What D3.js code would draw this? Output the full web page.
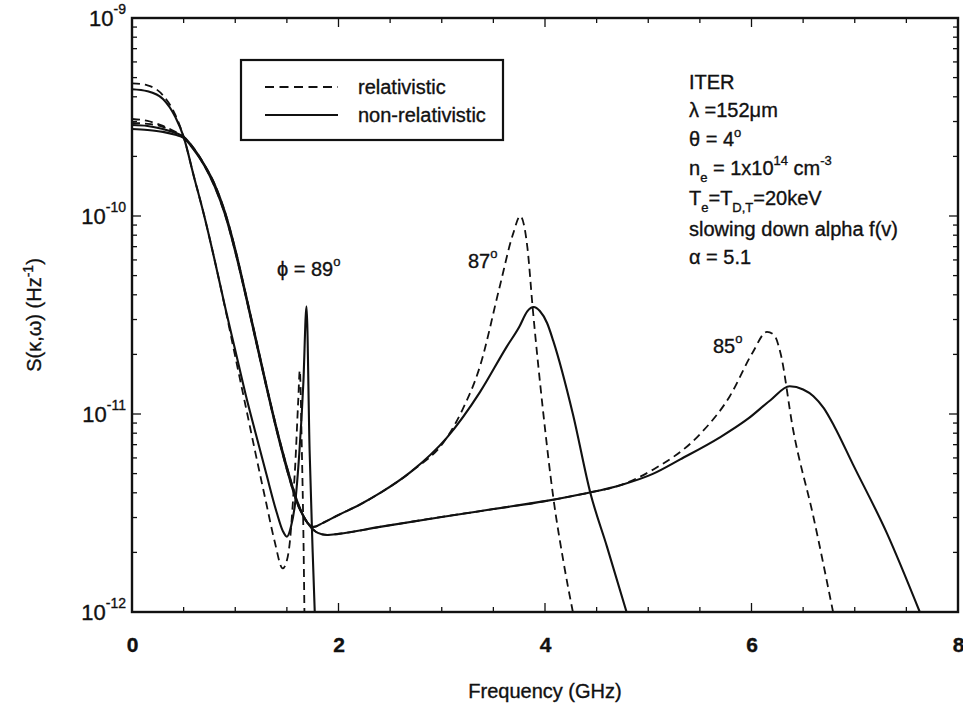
<!DOCTYPE html>
<html>
<head>
<meta charset="utf-8">
<script src="https://cdn.jsdelivr.net/npm/d3@7"></script>
<style>
  body { margin: 0; background: #fff; }
  text { font-family: "Liberation Sans", Arial, Helvetica, sans-serif; fill: #111; stroke: #111; stroke-width: 0.35px; }
</style>
</head>
<body>
<div id="chart"></div>
<script>
// frequency axis (GHz) and spectral density S(k,w) (Hz^-1)
const xTicks = [0, 2, 4, 6, 8];
const yTicks = [1e-9, 1e-10, 1e-11, 1e-12];
const yTickLabels = ["-9", "-10", "-11", "-12"];

// phi = 89 deg
const f89nr = [0, 0.15, 0.3, 0.42, 0.5, 0.6, 0.7, 0.8, 0.9, 1.0, 1.1, 1.2, 1.3, 1.4, 1.46, 1.5, 1.54, 1.58, 1.62, 1.66, 1.69, 1.72, 1.75, 1.77];
const s89nr = [4.37e-10, 4.27e-10, 3.9e-10, 3.16e-10, 2.51e-10, 1.58e-10, 1.0e-10, 6.0e-11, 3.5e-11, 2.1e-11, 1.26e-11, 7.9e-12, 5.0e-12, 3.2e-12, 2.57e-12, 2.4e-12, 2.7e-12, 3.55e-12, 6.3e-12, 1.45e-11, 3.5e-11, 6.6e-12, 2.0e-12, 1.0e-12];
const f89r = [0, 0.15, 0.3, 0.42, 0.5, 0.6, 0.7, 0.8, 0.9, 1.0, 1.1, 1.2, 1.3, 1.38, 1.46, 1.5, 1.53, 1.56, 1.58, 1.61, 1.625, 1.645, 1.66, 1.67];
const s89r = [4.68e-10, 4.57e-10, 4.07e-10, 3.24e-10, 2.51e-10, 1.58e-10, 1.0e-10, 6.0e-11, 3.47e-11, 1.95e-11, 1.1e-11, 6.2e-12, 3.55e-12, 2.29e-12, 1.66e-12, 1.82e-12, 2.29e-12, 3.7e-12, 5.4e-12, 1.17e-11, 1.66e-11, 6.6e-12, 2.5e-12, 1.0e-12];

// phi = 87 deg
const f87nr = [0, 0.15, 0.3, 0.42, 0.5, 0.6, 0.7, 0.8, 0.9, 1.0, 1.1, 1.2, 1.3, 1.4, 1.5, 1.6, 1.7, 1.76, 1.85, 2.0, 2.2, 2.4, 2.7, 3.05, 3.37, 3.63, 3.75, 3.83, 3.89, 3.95, 4.02, 4.08, 4.27, 4.44, 4.6, 4.79];
const s87nr = [2.88e-10, 2.85e-10, 2.75e-10, 2.63e-10, 2.51e-10, 2.19e-10, 1.82e-10, 1.45e-10, 1.05e-10, 6.8e-11, 4.07e-11, 2.4e-11, 1.41e-11, 8.5e-12, 5.4e-12, 3.63e-12, 2.82e-12, 2.69e-12, 2.82e-12, 3.09e-12, 3.47e-12, 3.98e-12, 5.1e-12, 7.6e-12, 1.29e-11, 2.19e-11, 2.75e-11, 3.31e-11, 3.47e-11, 3.31e-11, 2.88e-11, 2.34e-11, 1.0e-11, 3.98e-12, 2.14e-12, 1.0e-12];
const f87r = [0, 0.15, 0.3, 0.42, 0.5, 0.6, 0.7, 0.8, 0.9, 1.0, 1.1, 1.2, 1.3, 1.4, 1.5, 1.6, 1.7, 1.76, 1.85, 2.0, 2.2, 2.4, 2.7, 3.05, 3.2, 3.37, 3.56, 3.69, 3.76, 3.83, 3.88, 3.98, 4.08, 4.18, 4.27];
const s87r = [3.09e-10, 3.02e-10, 2.85e-10, 2.66e-10, 2.51e-10, 2.19e-10, 1.82e-10, 1.45e-10, 1.05e-10, 6.8e-11, 4.07e-11, 2.4e-11, 1.41e-11, 8.5e-12, 5.4e-12, 3.63e-12, 2.82e-12, 2.69e-12, 2.82e-12, 3.09e-12, 3.47e-12, 3.98e-12, 5.1e-12, 7.6e-12, 1.05e-11, 1.74e-11, 4.37e-11, 8.1e-11, 1.0e-10, 6.9e-11, 3.47e-11, 1.05e-11, 3.8e-12, 1.78e-12, 1.0e-12];

// phi = 85 deg
const f85nr = [0, 0.15, 0.3, 0.42, 0.5, 0.6, 0.7, 0.8, 0.9, 1.0, 1.1, 1.2, 1.3, 1.4, 1.5, 1.6, 1.7, 1.8, 1.89, 2.0, 2.4, 3.0, 3.5, 4.0, 4.4, 4.73, 5.05, 5.31, 5.69, 5.97, 6.18, 6.37, 6.5, 6.6, 6.7, 6.8, 6.98, 7.31, 7.63];
const s85nr = [2.75e-10, 2.72e-10, 2.66e-10, 2.57e-10, 2.48e-10, 2.16e-10, 1.8e-10, 1.41e-10, 1.02e-10, 6.6e-11, 3.98e-11, 2.34e-11, 1.38e-11, 8.3e-12, 5.25e-12, 3.55e-12, 2.82e-12, 2.51e-12, 2.45e-12, 2.48e-12, 2.69e-12, 3.02e-12, 3.31e-12, 3.63e-12, 3.98e-12, 4.37e-12, 5.0e-12, 5.9e-12, 7.6e-12, 9.5e-12, 1.17e-11, 1.38e-11, 1.33e-11, 1.23e-11, 1.07e-11, 8.7e-12, 5.6e-12, 2.51e-12, 1.0e-12];
const f85r = [0, 0.15, 0.3, 0.42, 0.5, 0.6, 0.7, 0.8, 0.9, 1.0, 1.1, 1.2, 1.3, 1.4, 1.5, 1.6, 1.7, 1.8, 1.89, 2.0, 2.4, 3.0, 3.5, 4.0, 4.4, 4.73, 5.05, 5.5, 5.79, 6.01, 6.15, 6.22, 6.28, 6.4, 6.6, 6.79];
const s85r = [2.95e-10, 2.92e-10, 2.82e-10, 2.63e-10, 2.48e-10, 2.16e-10, 1.8e-10, 1.41e-10, 1.02e-10, 6.6e-11, 3.98e-11, 2.34e-11, 1.38e-11, 8.3e-12, 5.25e-12, 3.55e-12, 2.82e-12, 2.51e-12, 2.45e-12, 2.48e-12, 2.69e-12, 3.02e-12, 3.31e-12, 3.63e-12, 3.98e-12, 4.37e-12, 5.25e-12, 7.9e-12, 1.23e-11, 2.04e-11, 2.6e-11, 2.5e-11, 2.04e-11, 8.5e-12, 3.02e-12, 1.0e-12];

const width = 963, height = 719;
const margin = {top: 18, right: 5, bottom: 107, left: 132};

const svg = d3.select("#chart").append("svg")
  .attr("width", width)
  .attr("height", height);

svg.append("rect").attr("width", width).attr("height", height).attr("fill", "#fff");

const x = d3.scaleLinear().domain([0, 8]).range([margin.left, width - margin.right]);
const y = d3.scaleLog().domain([1e-12, 1e-9]).range([height - margin.bottom, margin.top]);

svg.append("clipPath").attr("id", "clip")
  .append("rect")
  .attr("x", margin.left).attr("y", margin.top)
  .attr("width", x(8) - x(0)).attr("height", y(1e-12) - y(1e-9));

// minor ticks, pointing inward on all four sides
const xMinor = d3.range(0, 8.01, 0.5);
const yMinor = [];
[-12, -11, -10].forEach(e => { for (let m = 2; m <= 9; m++) yMinor.push(m * Math.pow(10, e)); });

const ticks = svg.append("g").attr("stroke", "#111").attr("stroke-width", 1.3);
xMinor.forEach(v => {
  const len = xTicks.includes(v) ? 9 : 5;
  ticks.append("line").attr("x1", x(v)).attr("x2", x(v)).attr("y1", y(1e-12)).attr("y2", y(1e-12) - len);
  ticks.append("line").attr("x1", x(v)).attr("x2", x(v)).attr("y1", y(1e-9)).attr("y2", y(1e-9) + len);
});
yMinor.concat(yTicks).forEach(v => {
  const len = yTicks.includes(v) ? 9 : 5;
  ticks.append("line").attr("x1", x(0)).attr("x2", x(0) + len).attr("y1", y(v)).attr("y2", y(v));
  ticks.append("line").attr("x1", x(8)).attr("x2", x(8) - len).attr("y1", y(v)).attr("y2", y(v));
});

// x tick labels via the axis generator
const xAxis = svg.append("g")
  .attr("transform", `translate(0,${y(1e-12)})`)
  .call(d3.axisBottom(x).tickValues(xTicks).tickSize(0).tickPadding(25).tickFormat(d3.format("d")));
xAxis.select(".domain").remove();
xAxis.selectAll("text").attr("font-size", 21).attr("font-weight", "bold").attr("fill", "#111")
  .style("font-family", "'Liberation Sans', Arial, sans-serif");

// y tick labels 10^n
yTicks.forEach((v, i) => {
  const t = svg.append("text")
    .attr("x", 126).attr("y", y(v) + 8)
    .attr("text-anchor", "end").attr("font-size", 22);
  t.append("tspan").text("10");
  t.append("tspan").attr("dy", -12).attr("font-size", 14).text(yTickLabels[i]);
});

// frame
svg.append("rect")
  .attr("x", x(0)).attr("y", y(1e-9))
  .attr("width", x(8) - x(0)).attr("height", y(1e-12) - y(1e-9))
  .attr("fill", "none").attr("stroke", "#111").attr("stroke-width", 2.4);

// curves
const line = d3.line()
  .x(d => x(d[0]))
  .y(d => y(d[1]))
  .curve(d3.curveMonotoneX);

const curves = [
  {f: f89nr, s: s89nr, dash: null},
  {f: f87nr, s: s87nr, dash: null},
  {f: f85nr, s: s85nr, dash: null},
  {f: f89r, s: s89r, dash: "8,5"},
  {f: f87r, s: s87r, dash: "8,5"},
  {f: f85r, s: s85r, dash: "8,5"}
];

const plot = svg.append("g").attr("clip-path", "url(#clip)");
curves.forEach(c => {
  plot.append("path")
    .datum(c.f.map((v, i) => [v, c.s[i]]))
    .attr("d", line)
    .attr("fill", "none")
    .attr("stroke", "#111")
    .attr("stroke-width", c.dash ? 1.8 : 2.1)
    .attr("stroke-dasharray", c.dash);
});

// legend
const lg = svg.append("g");
lg.append("rect").attr("x", 241).attr("y", 60).attr("width", 262).attr("height", 80)
  .attr("fill", "#fff").attr("stroke", "#111").attr("stroke-width", 2.2);
lg.append("line").attr("x1", 265).attr("x2", 338).attr("y1", 87).attr("y2", 87)
  .attr("stroke", "#111").attr("stroke-width", 2.2).attr("stroke-dasharray", "9,5.5");
lg.append("line").attr("x1", 265).attr("x2", 338).attr("y1", 115).attr("y2", 115)
  .attr("stroke", "#111").attr("stroke-width", 2.2);
lg.append("text").attr("x", 358).attr("y", 94).attr("font-size", 20).text("relativistic");
lg.append("text").attr("x", 358).attr("y", 122).attr("font-size", 20).text("non-relativistic");

// parameter block
const px = 689;
const info = svg.append("g").attr("font-size", 20);
info.append("text").attr("x", px).attr("y", 89).text("ITER");
info.append("text").attr("x", px).attr("y", 117).text("λ =152μm");
let t = info.append("text").attr("x", px).attr("y", 146);
t.append("tspan").text("θ = 4");
t.append("tspan").attr("dy", -9).attr("font-size", 13).text("o");
t = info.append("text").attr("x", px).attr("y", 175);
t.append("tspan").text("n");
t.append("tspan").attr("dy", 7).attr("font-size", 13).text("e");
t.append("tspan").attr("dy", -7).text(" = 1x10");
t.append("tspan").attr("dy", -10).attr("font-size", 13).text("14");
t.append("tspan").attr("dy", 10).text(" cm");
t.append("tspan").attr("dy", -10).attr("font-size", 13).text("-3");
t = info.append("text").attr("x", px).attr("y", 205);
t.append("tspan").text("T");
t.append("tspan").attr("dy", 7).attr("font-size", 13).text("e");
t.append("tspan").attr("dy", -7).text("=T");
t.append("tspan").attr("dy", 7).attr("font-size", 13).text("D,T");
t.append("tspan").attr("dy", -7).text("=20keV");
info.append("text").attr("x", px).attr("y", 236).text("slowing down alpha f(v)");
info.append("text").attr("x", px).attr("y", 264).text("α = 5.1");

// angle labels
const angle = (xx, yy, main) => {
  const a = svg.append("text").attr("x", xx).attr("y", yy).attr("font-size", 20);
  a.append("tspan").text(main);
  a.append("tspan").attr("dy", -10).attr("font-size", 13).text("o");
};
angle(277, 276, "ϕ = 89");
angle(468, 268, "87");
angle(713, 353, "85");

// axis titles
svg.append("text")
  .attr("x", (x(0) + x(8)) / 2).attr("y", 698)
  .attr("text-anchor", "middle").attr("font-size", 20)
  .text("Frequency (GHz)");

const yt = svg.append("text")
  .attr("transform", `translate(41,${(y(1e-9) + y(1e-12)) / 2}) rotate(-90)`)
  .attr("text-anchor", "middle").attr("font-size", 20);
yt.append("tspan").text("S(κ,ω) (Hz");
yt.append("tspan").attr("dy", -8).attr("font-size", 14).text("-1");
yt.append("tspan").attr("dy", 8).text(")");
</script>
</body>
</html>
